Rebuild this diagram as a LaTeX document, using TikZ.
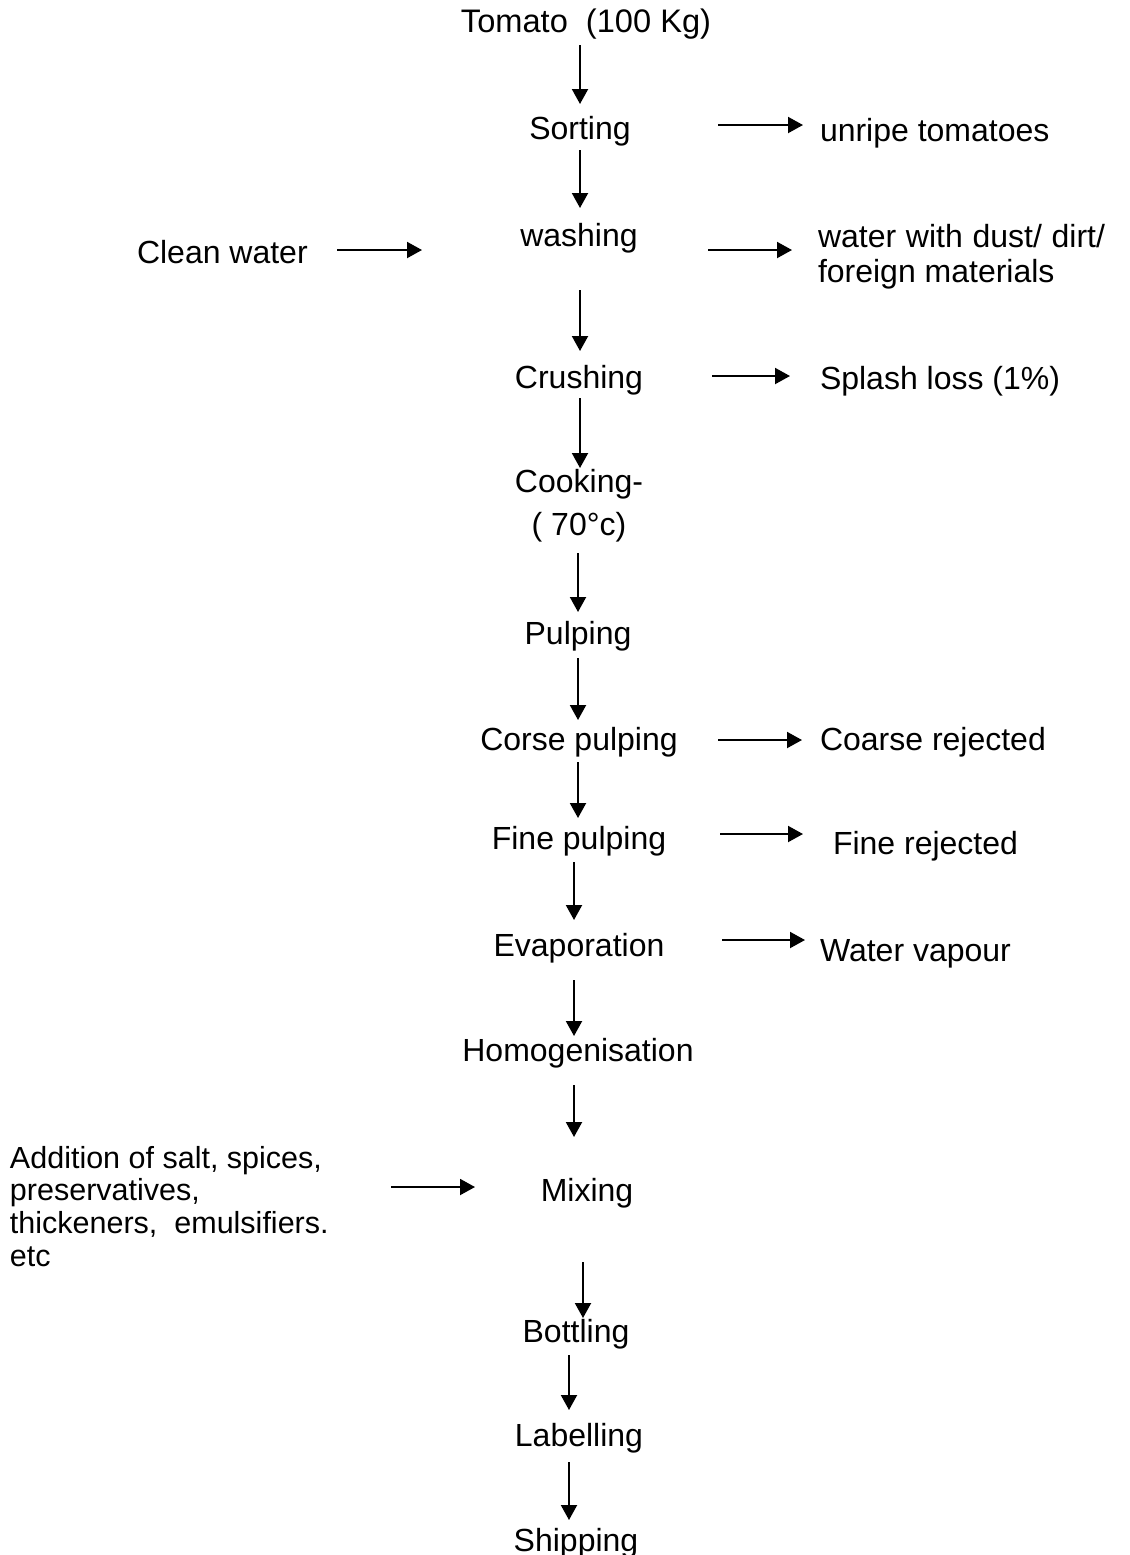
\documentclass[tikz,border=0pt]{standalone}
\usepackage{fontspec}
\setmainfont{Liberation Sans}
\usetikzlibrary{arrows.meta}
\tikzset{
  txt/.style={inner sep=0pt, outer sep=0pt, anchor=base, font=\fontsize{16}{18}\selectfont},
  arr/.style={line width=1pt, -{Triangle[length=7.5pt,width=8pt]}},
}
\newcommand\twolines[3]{\begin{tabular}[t]{@{}#1@{}}#2\\#3\end{tabular}}
\begin{document}
\begin{tikzpicture}[x=0.5pt,y=-0.5pt]
\useasboundingbox (0,0) rectangle (1130,1555);
% main column
\node[txt, font=\fontsize{16.3}{18}\selectfont] (tomato) at (586,32) {Tomato\ \ (100 Kg)};
\node[txt] (sorting) at (580,139) {Sorting};
\node[txt] (washing) at (579,246) {washing};
\node[txt] (crushing) at (579,388) {Crushing};
\node[txt, font=\fontsize{16}{21.5}\selectfont] (cooking) at (579,492) {\twolines{c}{Cooking-}{( 70°c)}};
\node[txt] (pulping) at (578,644) {Pulping};
\node[txt] (corse) at (579,750) {Corse pulping};
\node[txt] (fine) at (579,849) {Fine pulping};
\node[txt] (evap) at (579,956) {Evaporation};
\node[txt] (homog) at (578,1061) {Homogenisation};
\node[txt] (mixing) at (587,1201) {Mixing};
\node[txt] (bottling) at (576,1342) {Bottling};
\node[txt] (labelling) at (579,1446) {Labelling};
\node[txt] (shipping) at (576,1551) {Shipping};
% side texts
\node[txt, anchor=base west] (unripe) at (820,141) {unripe tomatoes};
\node[txt, anchor=base west] (clean) at (137,263) {Clean water};
\node[txt, anchor=base west, font=\fontsize{16}{17.5}\selectfont] (dirt) at (818,247) {\twolines{l}{\makebox[143.5pt][s]{water with dust/ dirt/}}{foreign materials}};
\node[txt, anchor=base west] (splash) at (820,389) {Splash loss (1\%)};
\node[txt, anchor=base west] (coarse) at (820,750) {Coarse rejected};
\node[txt, anchor=base west] (finerej) at (833,854) {Fine rejected};
\node[txt, anchor=base west] (vapour) at (820,961) {Water vapour};
\node[txt, anchor=base west, font=\fontsize{15.25}{16.4}\selectfont] (additives) at (10,1168) {\begin{tabular}[t]{@{}l@{}}Addition of salt, spices,\\preservatives,\\thickeners,\ \ emulsifiers.\\etc\end{tabular}};
% vertical arrows
\draw[arr] ([shift={(-6,13)}]tomato.base) -- ([shift={(0,-35)}]sorting.base);
\draw[arr] ([shift={(0,11)}]sorting.base) -- ([shift={(1,-38)}]washing.base);
\draw[arr] ([shift={(1,44)}]washing.base) -- ([shift={(1,-37)}]crushing.base);
\draw[arr] ([shift={(1,10)}]crushing.base) -- ([shift={(1,-24)}]cooking.base);
\draw[arr] ([shift={(-1,61)}]cooking.base) -- ([shift={(0,-32)}]pulping.base);
\draw[arr] ([shift={(0,14)}]pulping.base) -- ([shift={(-1,-30)}]corse.base);
\draw[arr] ([shift={(-1,12)}]corse.base) -- ([shift={(-1,-31)}]fine.base);
\draw[arr] ([shift={(-5,13)}]fine.base) -- ([shift={(-5,-36)}]evap.base);
\draw[arr] ([shift={(-5,24)}]evap.base) -- ([shift={(-4,-25)}]homog.base);
\draw[arr] ([shift={(-4,24)}]homog.base) -- ([shift={(-13,-64)}]mixing.base);
\draw[arr] ([shift={(-4,61)}]mixing.base) -- ([shift={(7,-24)}]bottling.base);
\draw[arr] ([shift={(-7,13)}]bottling.base) -- ([shift={(-10,-36)}]labelling.base);
\draw[arr] ([shift={(-10,16)}]labelling.base) -- ([shift={(-7,-31)}]shipping.base);
% horizontal arrows
\draw[arr] ([shift={(138,-14)}]sorting.base) -- ([shift={(-17,-16)}]unripe.base west);
\draw[arr] ([shift={(200,-13)}]clean.base west) -- ([shift={(-157,4)}]washing.base);
\draw[arr] ([shift={(129,4)}]washing.base) -- ([shift={(-26,3)}]dirt.base west);
\draw[arr] ([shift={(133,-12)}]crushing.base) -- ([shift={(-30,-13)}]splash.base west);
\draw[arr] ([shift={(139,-10)}]corse.base) -- ([shift={(-18,-10)}]coarse.base west);
\draw[arr] ([shift={(141,-15)}]fine.base) -- ([shift={(-30,-20)}]finerej.base west);
\draw[arr] ([shift={(143,-16)}]evap.base) -- ([shift={(-15,-21)}]vapour.base west);
\draw[arr] ([shift={(381,19)}]additives.base west) -- ([shift={(-112,-14)}]mixing.base);
\end{tikzpicture}
\end{document}
